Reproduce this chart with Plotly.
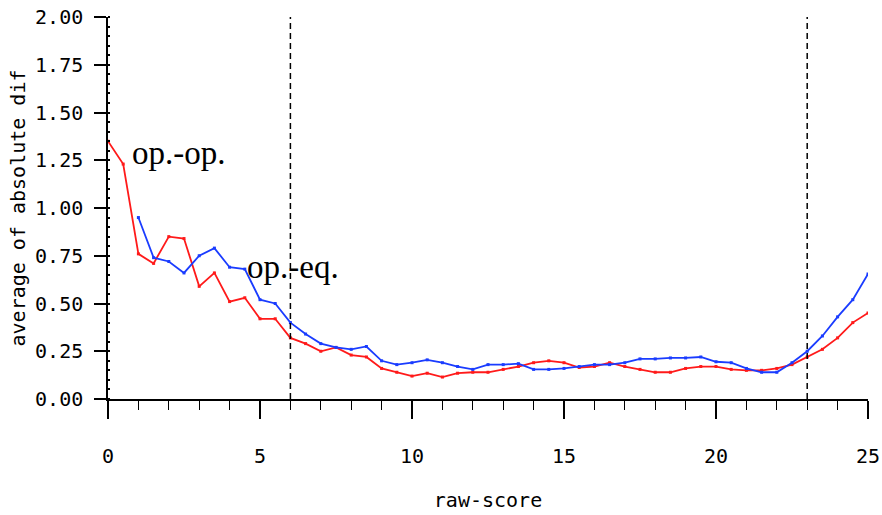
import plotly.graph_objects as go

# raw-score positions (half-point steps)
x_red = [i * 0.5 for i in range(51)]
y_red = [1.35, 1.23, 0.76, 0.71, 0.85, 0.84, 0.59, 0.66, 0.51, 0.53,
         0.42, 0.42, 0.32, 0.29, 0.25, 0.27, 0.23, 0.22, 0.16, 0.14,
         0.12, 0.135, 0.115, 0.135, 0.14, 0.14, 0.155, 0.17, 0.19, 0.20,
         0.19, 0.165, 0.17, 0.19, 0.17, 0.155, 0.14, 0.14, 0.16, 0.17,
         0.17, 0.155, 0.15, 0.15, 0.16, 0.18, 0.22, 0.26, 0.32, 0.40, 0.45]

x_blue = [1.0 + i * 0.5 for i in range(49)]
y_blue = [0.95, 0.74, 0.72, 0.66, 0.75, 0.79, 0.69, 0.68, 0.52, 0.50,
          0.40, 0.34, 0.29, 0.27, 0.26, 0.275, 0.20, 0.18, 0.19, 0.205,
          0.19, 0.17, 0.155, 0.18, 0.18, 0.185, 0.155, 0.155, 0.16, 0.17,
          0.18, 0.18, 0.19, 0.21, 0.21, 0.215, 0.215, 0.22, 0.195, 0.19,
          0.16, 0.14, 0.14, 0.19, 0.25, 0.33, 0.43, 0.52, 0.655]

cut_scores = [6, 23]
labels = ["op.-op.", "op.-eq."]
label_x = [0.72, 4.5]
label_y = [1.29, 0.69]

RED = "#ff1a1a"
BLUE = "#1a3cff"
MONO = "DejaVu Sans Mono"

fig = go.Figure()
fig.add_trace(go.Scatter(x=x_red, y=y_red, mode="lines+markers",
                         line=dict(color=RED, width=1.8),
                         marker=dict(color=RED, size=3, symbol="square"),
                         showlegend=False))
fig.add_trace(go.Scatter(x=x_blue, y=y_blue, mode="lines+markers",
                         line=dict(color=BLUE, width=1.8),
                         marker=dict(color=BLUE, size=3, symbol="square"),
                         showlegend=False))

for c in cut_scores:
    fig.add_shape(type="line", xref="x", yref="paper", x0=c, x1=c, y0=0, y1=1,
                  line=dict(color="black", width=1.5, dash="6px,4px"))

for t, lx, ly in zip(labels, label_x, label_y):
    fig.add_annotation(x=lx, y=ly, xref="x", yref="y", text=t, showarrow=False,
                       xanchor="left", yanchor="middle",
                       font=dict(family="Liberation Serif", size=33, color="black"))

fig.update_xaxes(range=[0, 25], tickmode="linear", tick0=0, dtick=5,
                 ticks="outside", ticklen=18, tickwidth=1.5, tickcolor="black",
                 showline=True, linecolor="black", linewidth=1.5,
                 showgrid=False, zeroline=False, automargin=False,
                 minor=dict(dtick=1, ticks="outside", ticklen=9, tickwidth=1.2,
                            tickcolor="black", showgrid=False),
                 tickfont=dict(family=MONO, size=20, color="black"),
                 ticklabelstandoff=20,
                 title=dict(text="raw-score", standoff=26,
                            font=dict(family=MONO, size=20, color="black")))
fig.update_yaxes(range=[0, 2], tickmode="linear", tick0=0, dtick=0.25,
                 tickformat=".2f",
                 ticks="outside", ticklen=12, tickwidth=1.5, tickcolor="black",
                 showline=True, linecolor="black", linewidth=1.5,
                 showgrid=False, zeroline=False, automargin=False,
                 minor=dict(dtick=0.05, ticks="inside", ticklen=2, tickwidth=1.5,
                            tickcolor="black", showgrid=False),
                 tickfont=dict(family=MONO, size=20, color="black"),
                 ticklabelstandoff=7,
                 title=dict(text="average of absolute dif", standoff=4,
                            font=dict(family=MONO, size=20, color="black")))

fig.update_layout(width=882, height=515,
                  margin=dict(l=108, r=14, t=17, b=116),
                  plot_bgcolor="white", paper_bgcolor="white")

fig.write_html("out.html")
